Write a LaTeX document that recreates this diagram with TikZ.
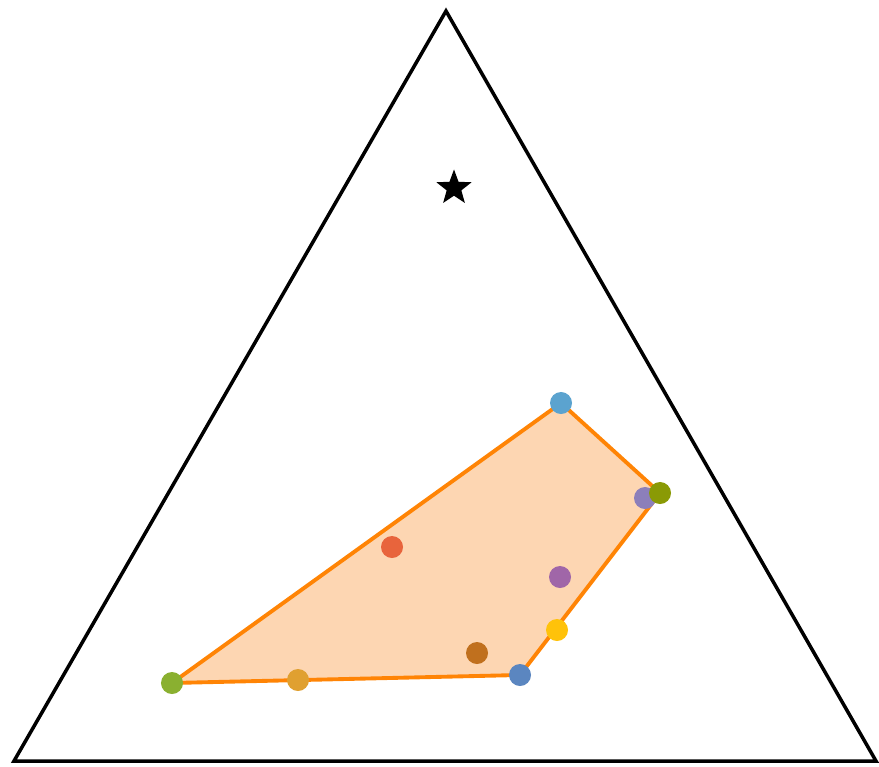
\documentclass[tikz,border=0pt]{standalone}
\usetikzlibrary{shapes.geometric}
\definecolor{hullfill}{HTML}{FDD6B2}
\definecolor{hullline}{HTML}{FF8405}
\definecolor{cblue}{HTML}{5BA3CF}
\definecolor{colive}{HTML}{8A9A05}
\definecolor{clav}{HTML}{8C7FBA}
\definecolor{cred}{HTML}{E8643C}
\definecolor{cpurple}{HTML}{A066A8}
\definecolor{cyellow}{HTML}{FFC20A}
\definecolor{cbrown}{HTML}{C0701E}
\definecolor{cblueb}{HTML}{5B86C0}
\definecolor{cgold}{HTML}{E0A030}
\definecolor{cgreen}{HTML}{8AB030}
\tikzset{dot/.style={circle, fill=#1, inner sep=0pt, minimum size=0.22cm}}
\begin{document}
\begin{tikzpicture}[x=0.01cm, y=-0.01cm]
  \useasboundingbox (0,0) rectangle (879,767);
  \draw[line width=1pt, line join=miter] (14,761) -- (876,761) -- (446,11) -- cycle;
  \node[star, star points=5, star point ratio=2.4, fill=black, inner sep=0pt, minimum size=0.37cm] (opt) at (454,188) {};

  \coordinate (h1) at (172,683);
  \coordinate (h2) at (561,403);
  \coordinate (h3) at (660,493);
  \coordinate (h4) at (520,675);
  \filldraw[fill=hullfill, draw=hullline, line width=1.1pt] (h1) -- (h2) -- (h3) -- (h4) -- cycle;

  \node[dot=cblue] (p1) at (h2) {};
  \node[dot=clav] (p2) at (645,498) {};
  \node[dot=colive] (p3) at (h3) {};
  \node[dot=cred] (p4) at (392,547) {};
  \node[dot=cpurple] (p5) at (560,577) {};
  \node[dot=cyellow] (p6) at (557,630) {};
  \node[dot=cbrown] (p7) at (477,653) {};
  \node[dot=cblueb] (p8) at (h4) {};
  \node[dot=cgold] (p9) at (298,680) {};
  \node[dot=cgreen] (p10) at (h1) {};
\end{tikzpicture}
\end{document}
